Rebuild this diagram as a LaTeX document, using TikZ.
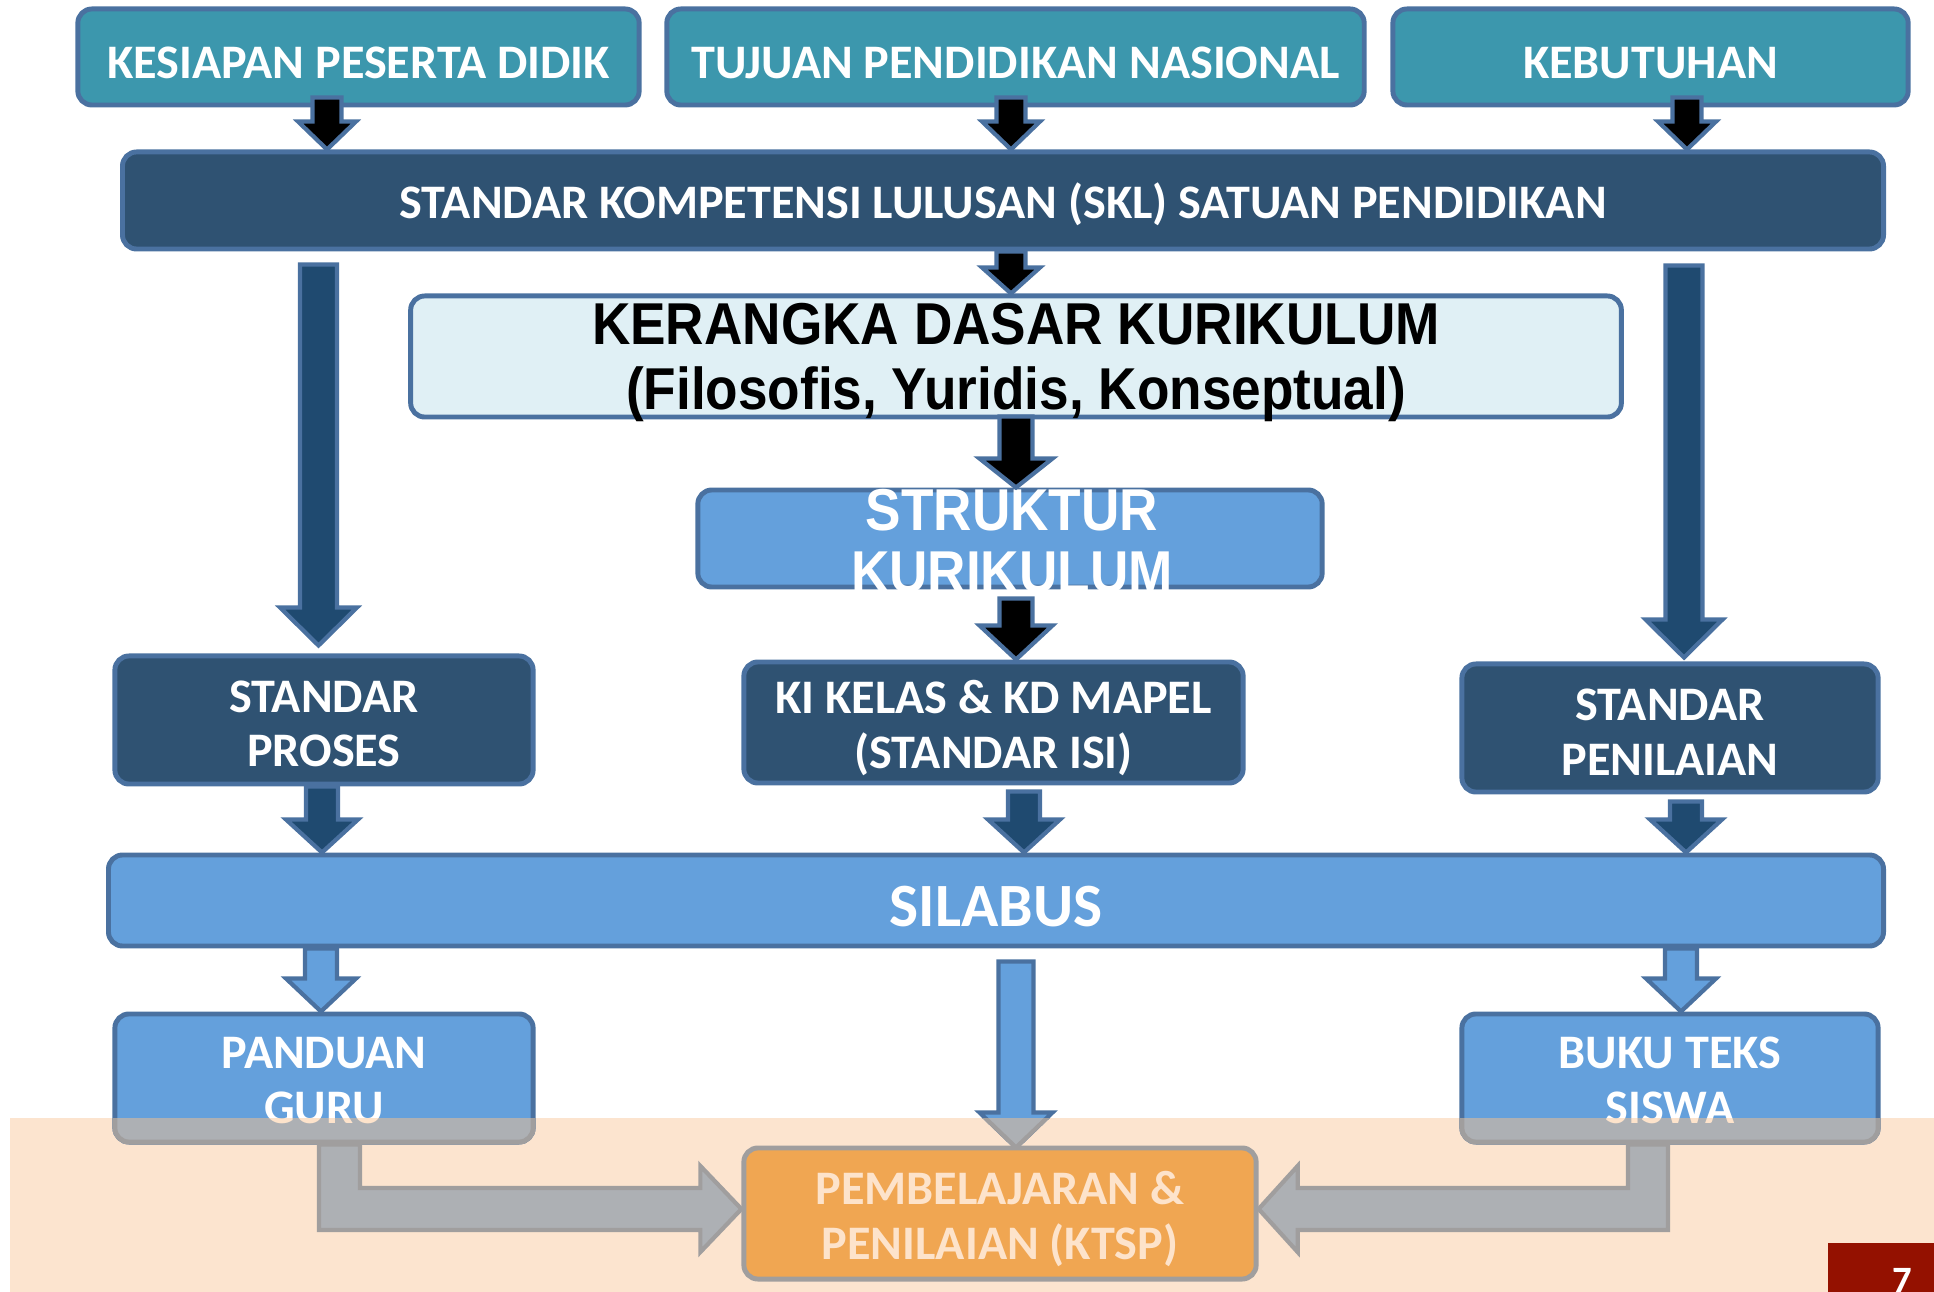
\documentclass[tikz,border=0pt]{standalone}
\usepackage{fontspec}
\setmainfont{Carlito}
\newfontfamily\arialb[FakeStretch=0.9]{Liberation Sans}
\usetikzlibrary{calc}

\definecolor{tosca}{HTML}{3C97AD}
\definecolor{biruTua}{HTML}{2F5272}
\definecolor{biruPanah}{HTML}{1F4A70}
\definecolor{biruMuda}{HTML}{64A0DC}
\definecolor{biruPucat}{HTML}{E0F0F5}
\definecolor{garisBiru}{HTML}{4A71A0}
\definecolor{krem}{HTML}{FCE4CF}
\definecolor{abuIsi}{HTML}{ADB0B4}
\definecolor{abuGaris}{HTML}{A09E9E}
\definecolor{oranye}{HTML}{F0A652}
\definecolor{teksKrem}{HTML}{FDE3CB}
\definecolor{merahTua}{HTML}{941100}

% penurun teks baris pertama
\newcommand{\naik}[1][11.2pt]{\rule{0pt}{#1}}

% panah blok ke bawah: [gaya]{pangkal}{ujung}{setengah batang}{setengah kepala}{panjang kepala}
\newcommand{\panah}[6][]{%
  \draw[#1] let \p1=(#2), \p2=(#3) in
    (\x1-#4,\y1) -- (\x1-#4,\y2+#6) -- (\x1-#5,\y2+#6) -- (\x1,\y2)
    -- (\x1+#5,\y2+#6) -- (\x1+#4,\y2+#6) -- (\x1+#4,\y1) -- cycle;}

\begin{document}
\begin{tikzpicture}[x=0.01cm, y=-0.01cm,
    kotak/.style={rectangle, rounded corners=4pt, line width=1.4pt, draw=garisBiru,
                  align=center, inner sep=0pt, text=white,
                  font=\bfseries\fontsize{13.7}{15.6}\selectfont,
                  execute at begin node={\rule{0pt}{12.6pt}}},
    sumber/.style={kotak, fill=tosca},
    standar/.style={kotak, fill=biruTua},
    hasil/.style={kotak, fill=biruMuda},
    pudar/.style={kotak, fill=abuIsi, draw=abuGaris, text=teksKrem},
    hitam/.style={fill=black, draw=garisBiru, line width=1.2pt},
    tua/.style={fill=biruPanah, draw=garisBiru, line width=1.2pt},
    muda/.style={fill=biruMuda, draw=garisBiru, line width=1.2pt},
    abu/.style={fill=abuIsi, draw=abuGaris, line width=1.2pt}]

    \useasboundingbox (0,0) rectangle (1934,1292);

    % ---------------- latar bawah ----------------
    \fill[krem] (10,1118) rectangle (1934,1292);

    % ---------------- kotak ----------------
    \node (kesiapan)  [sumber,  minimum width=5.61cm, minimum height=0.96cm] at (358.5,57)  {KESIAPAN PESERTA DIDIK};
    \node (tujuan)    [sumber,  minimum width=6.97cm, minimum height=0.96cm] at (1015.5,57) {TUJUAN PENDIDIKAN NASIONAL};
    \node (kebutuhan) [sumber,  minimum width=5.15cm, minimum height=0.96cm] at (1650.5,57) {KEBUTUHAN};
    \node (skl)       [standar, minimum width=17.6cm, minimum height=0.97cm] at (1003,200.5) {STANDAR KOMPETENSI LULUSAN (SKL) SATUAN PENDIDIKAN};
    \node (kerangka)  [kotak, fill=biruPucat, text=black, font=\arialb\bfseries\fontsize{16.8}{18.5}\selectfont,
                       inner ysep=-1pt,
                       minimum width=12.1cm, minimum height=1.21cm] at (1016,356.5) {KERANGKA DASAR KURIKULUM\\\smash{(Filosofis, Yuridis, Konseptual)}};
    \node (struktur)  [hasil,   minimum width=6.24cm, minimum height=0.97cm] at (1010,538.5) {};
    \node (strukturTeks) [font=\arialb\bfseries\fontsize{16.8}{17.6}\selectfont, text=white, align=center, inner sep=0pt] at (1012,541) {STRUKTUR\\KURIKULUM};
    \node (proses)    [standar, minimum width=4.18cm, minimum height=1.28cm] at (324,720)    {\naik STANDAR\\PROSES};
    \node (kikd)      [standar, minimum width=4.99cm, minimum height=1.21cm] at (993.5,722.5) {\naik[12.8pt]KI KELAS \& KD MAPEL\\(STANDAR ISI)};
    \node (penilaian) [standar, minimum width=4.16cm, minimum height=1.28cm] at (1670,728)   {\naik STANDAR\\PENILAIAN};
    \node (silabus)   [hasil, font=\bfseries\fontsize{17.5}{20}\selectfont, execute at begin node={\rule{0pt}{14.8pt}},
                       minimum width=17.74cm, minimum height=0.91cm] at (996,900.5) {SILABUS};
    \node (panduan)   [hasil,   minimum width=4.18cm, minimum height=1.28cm] at (324,1078)   {\naik[10.2pt]PANDUAN\\GURU};
    \node (buku)      [hasil,   minimum width=4.16cm, minimum height=1.28cm] at (1670,1078)  {\naik[10.2pt]BUKU TEKS\\SISWA};

    % ---------------- panah ----------------
    \panah[hitam]{$(kesiapan.south)+(-31.5,-10)$}{skl.north}{0.145cm}{0.29cm}{0.28cm}
    \panah[hitam]{$(tujuan.south)+(-4.5,-10)$}{skl.north}{0.145cm}{0.29cm}{0.28cm}
    \panah[hitam]{$(kebutuhan.south)+(36.5,-10)$}{skl.north}{0.145cm}{0.29cm}{0.28cm}
    \panah[hitam]{$(skl.south)+(8,0)$}{kerangka.north}{0.145cm}{0.29cm}{0.26cm}
    \panah[hitam]{$(kerangka.south)+(0,-3)$}{struktur.north}{0.165cm}{0.365cm}{0.29cm}
    \panah[hitam]{$(struktur.south)+(6,9)$}{kikd.north}{0.165cm}{0.365cm}{0.34cm}

    \panah[tua]{$(skl.south -| proses.north)+(-5.5,13)$}{$(proses.north)+(0,-8)$}{0.185cm}{0.385cm}{0.38cm}
    \panah[tua]{$(skl.south -| penilaian.north)+(14,14)$}{$(penilaian.north)+(0,-4)$}{0.185cm}{0.385cm}{0.38cm}
    \panah[tua]{$(proses.south)+(-2,0)$}{silabus.north}{0.16cm}{0.36cm}{0.33cm}
    \panah[tua]{$(kikd.south)+(30.5,6)$}{silabus.north}{0.16cm}{0.36cm}{0.33cm}
    \panah[tua]{$(penilaian.south)+(16,7)$}{silabus.north}{0.16cm}{0.36cm}{0.33cm}

    \panah[muda]{$(silabus.south -| panduan.north)+(-3,0)$}{panduan.north}{0.16cm}{0.35cm}{0.33cm}
    \panah[muda]{$(silabus.south)+(20,13)$}{$(silabus.south)+(20,199)$}{0.175cm}{0.365cm}{0.35cm}
    \panah[muda]{$(silabus.south -| buku.north)+(11,0)$}{buku.north}{0.16cm}{0.35cm}{0.33cm}

    % ---------------- bagian yang tertutup latar ----------------
    \begin{scope}
        \clip (10,1118) rectangle (1934,1292);
        \node (panduanPudar) [pudar, minimum width=4.18cm, minimum height=1.28cm] at (panduan) {\naik[10.2pt]PANDUAN\\GURU};
        \node (bukuPudar)    [pudar, minimum width=4.16cm, minimum height=1.28cm] at (buku)    {\naik[10.2pt]BUKU TEKS\\SISWA};
        \panah[abu]{$(silabus.south)+(20,13)$}{$(silabus.south)+(20,199)$}{0.175cm}{0.365cm}{0.35cm}
    \end{scope}

    % ---------------- hasil akhir ----------------
    \node (ktsp) [kotak, fill=oranye, draw=abuGaris, text=teksKrem,
                  minimum width=5.12cm, minimum height=1.31cm] at (1000,1213.5) {\naik[12.8pt]PEMBELAJARAN \&\\PENILAIAN (KTSP)};
    \draw[abu] let \p1=(panduan.south), \p2=($(ktsp.west)+(0,-4.5)$) in
        (\x1-0.05cm,\y1) -- (\x1-0.05cm,\y2-0.21cm) -- (\x2-0.41cm,\y2-0.21cm) -- (\x2-0.41cm,\y2-0.43cm)
        -- (\x2,\y2) -- (\x2-0.41cm,\y2+0.43cm) -- (\x2-0.41cm,\y2+0.21cm) -- (\x1+0.36cm,\y2+0.21cm)
        -- (\x1+0.36cm,\y1) -- cycle;
    \draw[abu] let \p1=(buku.south), \p2=($(ktsp.east)+(0,-4.5)$) in
        (\x1-0.02cm,\y1) -- (\x1-0.02cm,\y2-0.21cm) -- (\x2+0.39cm,\y2-0.21cm) -- (\x2+0.39cm,\y2-0.43cm)
        -- (\x2,\y2) -- (\x2+0.39cm,\y2+0.43cm) -- (\x2+0.39cm,\y2+0.21cm) -- (\x1-0.42cm,\y2+0.21cm)
        -- (\x1-0.42cm,\y1) -- cycle;

    % ---------------- nomor halaman ----------------
    \node (halaman) [fill=merahTua, minimum width=1.07cm, minimum height=0.5cm, inner sep=0pt, anchor=north west] at (1827,1242) {};
    \node (nomor) [text=white, font=\bfseries\fontsize{11}{13}\selectfont, inner sep=0pt, anchor=north] at (1902,1268) {7};
\end{tikzpicture}
\end{document}
